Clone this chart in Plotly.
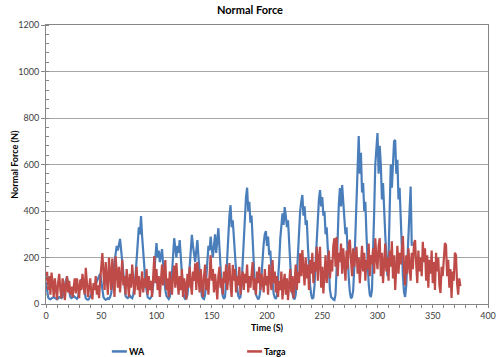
import plotly.graph_objects as go

# WA series: 1 s samples, t = 0..331
wa_values = [
    95, 55, 28, 22, 20, 24, 28, 30, 26, 22,
    20, 24, 30, 28, 25, 30, 45, 70, 100, 117,
    85, 45, 30, 25, 28, 35, 30, 25, 22, 30,
    50, 80, 105, 110, 75, 40, 25, 20, 18, 22,
    35, 45, 55, 65, 75, 85, 95, 110, 120, 130,
    100, 60, 30, 22, 18, 20, 25, 22, 30, 45,
    80, 130, 180, 220, 250, 230, 260, 280, 232, 180,
    110, 60, 35, 28, 25, 30, 35, 28, 25, 40,
    70, 120, 190, 260, 330, 300, 378, 290, 240, 160,
    90, 50, 30, 25, 22, 28, 40, 80, 150, 210,
    262, 200, 230, 180, 215, 236, 170, 110, 60, 35,
    25, 22, 30, 60, 130, 220, 283, 240, 200, 250,
    220, 275, 190, 120, 60, 30, 22, 25, 40, 90,
    170, 240, 297, 250, 200, 180, 230, 275, 200, 130,
    70, 35, 25, 22, 40, 100, 180, 250, 230, 290,
    240, 200, 250, 300, 220, 280, 326, 240, 140, 70,
    35, 22, 30, 90, 200, 300, 380, 425, 330, 360,
    280, 200, 130, 70, 35, 25, 30, 80, 180, 300,
    420, 460, 500, 400, 440, 350, 380, 260, 150, 80,
    40, 25, 20, 28, 60, 120, 200, 260, 300, 314,
    250, 290, 210, 230, 150, 90, 45, 28, 22, 35,
    90, 180, 280, 350, 390, 340, 417, 380, 330, 360,
    260, 170, 90, 45, 25, 20, 40, 120, 240, 330,
    400, 440, 469, 380, 420, 340, 360, 250, 150, 80,
    40, 22, 28, 80, 180, 280, 380, 450, 490, 420,
    460, 380, 400, 300, 330, 220, 120, 60, 30, 22,
    20, 17, 40, 150, 300, 430, 499, 420, 512, 440,
    380, 300, 330, 200, 110, 50, 25, 30, 60, 160,
    300, 450, 600, 722, 560, 650, 480, 520, 400, 440,
    300, 180, 90, 40, 30, 60, 200, 400, 600, 700,
    735, 560, 680, 600, 450, 520, 380, 300, 200, 120,
    200, 400, 600, 500, 650, 700, 705, 560, 620, 450,
    500, 350, 250, 120, 50, 30, 80, 200, 300, 450,
    505, 250,
]
wa_time = list(range(len(wa_values)))

# Targa series: 1 s samples, t = 0..375
targa_values = [
    100, 138, 60, 120, 40, 135, 90, 30, 110, 70,
    20, 95, 130, 60, 25, 110, 90, 17, 80, 120,
    50, 100, 40, 75, 30, 60, 110, 45, 110, 70,
    25, 105, 60, 130, 80, 40, 156, 90, 30, 70,
    110, 50, 20, 90, 60, 120, 40, 80, 25, 100,
    150, 219, 130, 60, 180, 90, 40, 200, 120, 60,
    195, 100, 30, 205, 140, 70, 160, 50, 120, 190,
    80, 120, 40, 150, 100, 30, 130, 70, 170, 110,
    40, 100, 160, 60, 120, 30, 90, 140, 50, 110,
    70, 150, 40, 120, 60, 100, 30, 130, 206, 90,
    150, 60, 120, 30, 100, 170, 80, 140, 189, 60,
    110, 30, 140, 80, 40, 130, 165, 70, 176, 100,
    40, 120, 60, 150, 30, 110, 80, 20, 130, 70,
    160, 90, 40, 140, 100, 175, 60, 180, 120, 50,
    150, 80, 30, 120, 170, 60, 110, 40, 140, 210,
    100, 150, 50, 130, 80, 20, 120, 160, 70, 110,
    40, 140, 90, 170, 60, 130, 176, 80, 30, 168,
    100, 150, 50, 120, 80, 160, 40, 110, 140, 60,
    130, 90, 170, 50, 120, 70, 150, 180, 60, 110,
    40, 140, 90, 160, 60, 130, 100, 50, 150, 80,
    120, 40, 170, 110, 60, 189, 90, 140, 50, 120,
    30, 100, 60, 140, 20, 90, 130, 40, 110, 17,
    80, 150, 50, 120, 25, 100, 170, 60, 140, 90,
    218, 120, 232, 150, 80, 200, 110, 170, 60, 190,
    130, 220, 90, 180, 140, 246, 100, 200, 246, 70,
    160, 45, 130, 210, 90, 170, 230, 110, 190, 140,
    250, 283, 160, 288, 120, 220, 180, 260, 130, 240,
    170, 100, 230, 150, 260, 276, 190, 120, 240, 160,
    210, 246, 130, 200, 90, 180, 250, 140, 220, 100,
    190, 150, 260, 120, 210, 170, 240, 130, 283, 200,
    150, 250, 283, 120, 220, 90, 180, 260, 140, 200,
    100, 230, 160, 270, 110, 210, 60, 190, 250, 130,
    220, 170, 260, 292, 150, 80, 210, 130, 240, 180,
    100, 220, 150, 260, 275, 170, 90, 230, 140, 200,
    120, 268, 180, 240, 100, 210, 70, 190, 130, 230,
    90, 180, 60, 220, 140, 200, 80, 47, 160, 120,
    210, 262, 254, 120, 190, 70, 150, 26, 140, 100,
    220, 211, 90, 40, 110, 77,
]
targa_time = list(range(len(targa_values)))

x_ticks = [0, 50, 100, 150, 200, 250, 300, 350, 400]
y_ticks = [0, 200, 400, 600, 800, 1000, 1200]

series_names = ["WA", "Targa"]
series_colors = ["#4A7EBB", "#BE4B48"]

FONT = "Lato, 'Open Sans', Arial, sans-serif"
TICK_COLOR = "#404040"

fig = go.Figure()
fig.add_trace(go.Scatter(x=wa_time, y=wa_values, mode="lines", name=series_names[0],
                         line=dict(color=series_colors[0], width=2.2)))
fig.add_trace(go.Scatter(x=targa_time, y=targa_values, mode="lines", name=series_names[1],
                         line=dict(color=series_colors[1], width=2.2)))

# Legend drawn below the plot (keeps the plot area from being shrunk)
legend_x0 = [0.149, 0.455]
legend_len = 0.034
legend_y = -0.17
for name, color, x0 in zip(series_names, series_colors, legend_x0):
    fig.add_shape(type="line", xref="paper", yref="paper",
                  x0=x0, x1=x0 + legend_len, y0=legend_y, y1=legend_y,
                  line=dict(color=color, width=2.5))
    fig.add_annotation(xref="paper", yref="paper", x=x0 + legend_len, y=legend_y,
                       xanchor="left", yanchor="middle", showarrow=False,
                       text="<b>" + name + "</b>",
                       font=dict(family=FONT, size=9, color="black"))

# axis titles
fig.add_annotation(xref="paper", yref="paper", x=-0.072, y=0.5, xanchor="center",
                   yanchor="middle", textangle=-90, showarrow=False,
                   text="<b>Normal Force (N)</b>",
                   font=dict(family=FONT, size=9, color="black"))
fig.add_annotation(xref="paper", yref="paper", x=0.5, y=-0.086, xanchor="center",
                   yanchor="middle", showarrow=False,
                   text="<b>Time (S)</b>",
                   font=dict(family=FONT, size=9, color="black"))

fig.update_layout(
    width=500, height=357, autosize=False,
    margin=dict(l=46, r=12, t=25, b=53),
    paper_bgcolor="white", plot_bgcolor="white",
    font=dict(family=FONT, size=9, color=TICK_COLOR),
    title=dict(text="<b>Normal Force</b>", x=0.5, xanchor="center", y=0.972, yanchor="middle",
               font=dict(family=FONT, size=11, color="black")),
    showlegend=False,
    xaxis=dict(range=[0, 400], tickvals=x_ticks, showgrid=False, zeroline=False,
               automargin=False,
               showline=True, linecolor="#868686", linewidth=1, mirror=True,
               ticks="outside", ticklen=3, tickcolor="#868686",
               minor=dict(dtick=10, ticks="outside", ticklen=3, tickcolor="#868686"),
               tickfont=dict(size=9, color=TICK_COLOR)),
    yaxis=dict(range=[0, 1200], tickvals=y_ticks, showgrid=True, gridcolor="#A6A6A6",
               gridwidth=1, zeroline=False, automargin=False,
               showline=True, linecolor="#868686", linewidth=1, mirror=True,
               ticks="outside", ticklen=4, tickcolor="#868686",
               minor=dict(dtick=40, ticks="inside", ticklen=3, tickcolor="#868686"),
               tickfont=dict(size=9, color=TICK_COLOR)),
)

fig.write_html("out.html",
               config={"displayModeBar": False, "responsive": False},
               post_script="document.body.style.margin='0';document.body.style.overflow='hidden';")
